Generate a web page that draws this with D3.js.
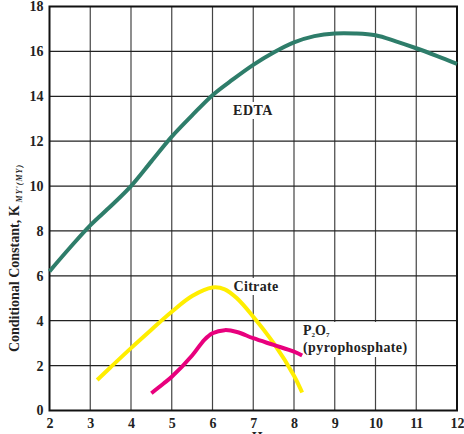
<!DOCTYPE html>
<html>
<head>
<meta charset="utf-8">
<script src="https://cdn.jsdelivr.net/npm/d3@7"></script>
<style>
  body { margin: 0; background: #fff; }
  text { font-family: "Liberation Serif", "DejaVu Serif", serif; font-weight: bold; }
</style>
</head>
<body>
<script>
const width = 464;
const height = 434;
const margin = {top: 6.5, right: 7, bottom: 23.5, left: 49.5};

// pH ticks and K ticks
const xTicks = [2, 3, 4, 5, 6, 7, 8, 9, 10, 11, 12];
const yTicks = [0, 2, 4, 6, 8, 10, 12, 14, 16, 18];

// curves: [pH, K]
const edta = [[2, 6.2], [2.5, 7.25], [3, 8.25], [3.5, 9.1], [4, 10.0], [4.5, 11.1], [5, 12.2],
  [5.5, 13.15], [6, 14.05], [6.5, 14.75], [7, 15.4], [7.5, 15.95], [8, 16.4], [8.5, 16.68],
  [9, 16.8], [9.5, 16.8], [10, 16.72], [10.5, 16.45], [11, 16.14], [11.5, 15.8], [12, 15.44]];
const citrate = [[3.17, 1.36], [3.5, 1.93], [4, 2.78], [4.5, 3.6], [5, 4.4], [5.5, 5.1],
  [6, 5.48], [6.3, 5.4], [6.6, 5.0], [7, 4.18], [7.5, 3.0], [8, 1.55], [8.2, 0.8]];
const pyro = [[4.5, 0.77], [4.8, 1.2], [5, 1.5], [5.5, 2.45], [5.8, 3.15], [6, 3.44], [6.3, 3.58],
  [6.6, 3.5], [7, 3.22], [7.5, 2.92], [8, 2.62], [8.2, 2.45]];

const svg = d3.select('body').append('svg')
  .attr('width', width)
  .attr('height', height);

const x = d3.scaleLinear().domain([2, 12]).range([margin.left, width - margin.right]);
const y = d3.scaleLinear().domain([0, 18]).range([height - margin.bottom, margin.top]);

// grid
svg.append('g').selectAll('line')
  .data(xTicks.slice(1, -1))
  .enter().append('line')
  .attr('x1', d => x(d)).attr('x2', d => x(d))
  .attr('y1', y(18)).attr('y2', y(0))
  .attr('stroke', '#444').attr('stroke-width', 1.2);

svg.append('g').selectAll('line')
  .data(yTicks.slice(1, -1))
  .enter().append('line')
  .attr('x1', x(2)).attr('x2', x(12))
  .attr('y1', d => y(d)).attr('y2', d => y(d))
  .attr('stroke', '#222').attr('stroke-width', 1.2);

// frame
svg.append('rect')
  .attr('x', x(2)).attr('y', y(18))
  .attr('width', x(12) - x(2)).attr('height', y(0) - y(18))
  .attr('fill', 'none').attr('stroke', '#111').attr('stroke-width', 2);

// tick labels
svg.append('g')
  .attr('transform', `translate(0,${y(0)})`)
  .call(d3.axisBottom(x).tickValues(xTicks).tickSize(0).tickPadding(8))
  .call(g => g.select('.domain').remove())
  .selectAll('text')
  .attr('font-size', 14).attr('fill', '#222')
  .style('font-family', '"Liberation Serif", serif').style('font-weight', 'bold');

svg.append('g')
  .attr('transform', `translate(${x(2)},0)`)
  .call(d3.axisLeft(y).tickValues(yTicks).tickSize(0).tickPadding(6))
  .call(g => g.select('.domain').remove())
  .selectAll('text')
  .attr('font-size', 14).attr('fill', '#222')
  .style('font-family', '"Liberation Serif", serif').style('font-weight', 'bold');

// white box behind a label group so it cuts the grid
function boxed(g) {
  const bb = g.node().getBBox();
  g.insert('rect', ':first-child')
    .attr('x', bb.x - 3).attr('y', bb.y - 1)
    .attr('width', bb.width + 6).attr('height', bb.height + 2)
    .attr('fill', '#fff');
}

const edtaLab = svg.append('g');
edtaLab.append('text').attr('x', 253).attr('y', 115).attr('text-anchor', 'middle')
  .attr('font-size', 14).attr('letter-spacing', 0.5).attr('fill', '#222').text('EDTA');
boxed(edtaLab);

const citLab = svg.append('g');
citLab.append('text').attr('x', 256).attr('y', 291).attr('text-anchor', 'middle')
  .attr('font-size', 14).attr('letter-spacing', 0.3).attr('fill', '#222').text('Citrate');
boxed(citLab);

const pyLab = svg.append('g');
const p2o7 = pyLab.append('text').attr('x', 303).attr('y', 335)
  .attr('font-size', 14).attr('fill', '#222');
p2o7.append('tspan').text('P');
p2o7.append('tspan').text('2').attr('font-size', 7).attr('dy', 2);
p2o7.append('tspan').text('O').attr('dy', -2);
p2o7.append('tspan').text('7').attr('font-size', 7).attr('dy', 2);
pyLab.append('text').attr('x', 303).attr('y', 352)
  .attr('font-size', 14).attr('letter-spacing', 0.4).attr('fill', '#222').text('(pyrophosphate)');
boxed(pyLab);

const line = d3.line().x(d => x(d[0])).y(d => y(d[1])).curve(d3.curveCatmullRom);

svg.append('path').datum(edta)
  .attr('d', line).attr('fill', 'none')
  .attr('stroke', '#2e7d6a').attr('stroke-width', 4);
svg.append('path').datum(citrate)
  .attr('d', line).attr('fill', 'none')
  .attr('stroke', '#ffee00').attr('stroke-width', 4);
svg.append('path').datum(pyro)
  .attr('d', line).attr('fill', 'none')
  .attr('stroke', '#e8007d').attr('stroke-width', 4);

// axis titles
const yt = svg.append('text')
  .attr('transform', 'translate(19,258) rotate(-90)')
  .attr('text-anchor', 'middle')
  .attr('font-size', 14).attr('fill', '#222');
yt.append('tspan').text('Conditional Constant, K');
yt.append('tspan').text(" MY'(MY)").attr('font-size', 8).attr('dy', 3)
  .attr('letter-spacing', 1).style('font-style', 'italic');

svg.append('text')
  .attr('x', x(7)).attr('y', 442)
  .attr('text-anchor', 'middle')
  .attr('font-size', 14).attr('fill', '#222')
  .text('pH');
</script>
</body>
</html>
